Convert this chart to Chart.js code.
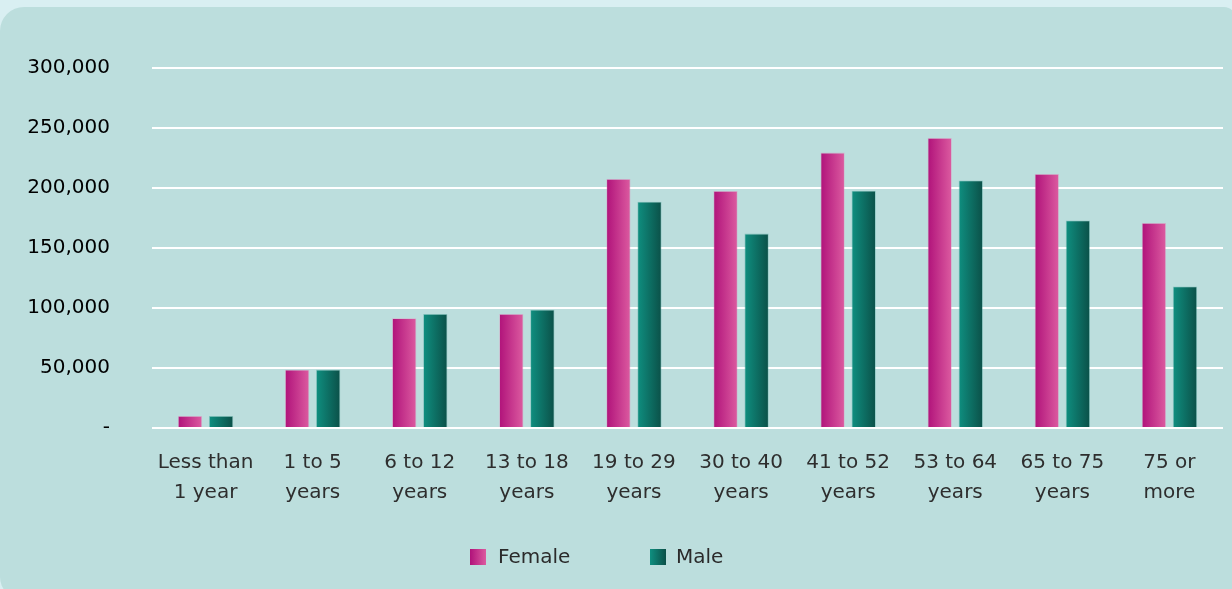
<!DOCTYPE html>
<html>
<head>
<meta charset="utf-8">
<script src="https://cdn.jsdelivr.net/npm/chart.js@4/dist/chart.umd.min.js"></script>
<style>
  html, body { margin: 0; padding: 0; width: 1232px; height: 589px; overflow: hidden; background: #d9eff2; }
  #panel { position: absolute; left: 0; top: 7px; width: 1236px; height: 592px; background: #bcdedd;
           border-radius: 24px 12px 0 22px; }
  #wrap { position: absolute; left: 0; top: 0; width: 1232px; height: 589px; }
  #legend { position: absolute; top: 545px; left: 0; width: 1232px; height: 24px;
            font-family: "DejaVu Sans", sans-serif; font-size: 20px; color: #2b2b2b; }
  .sw { position: absolute; top: 4px; width: 16px; height: 16px; }
  .lt { position: absolute; top: -1px; line-height: 24px; }
</style>
</head>
<body>
<div id="panel"></div>
<div id="wrap"><canvas id="c" width="1232" height="589"></canvas></div>
<div id="legend">
  <span class="sw" style="left:470px;background:linear-gradient(90deg,#b0127a,#dc5ba0);"></span>
  <span class="lt" style="left:498px;" id="lf"></span>
  <span class="sw" style="left:650px;background:linear-gradient(90deg,#0f8f80,#0b5048);"></span>
  <span class="lt" style="left:676px;" id="lm"></span>
</div>
<script>
const categories = [
  ['Less than', '1 year'], ['1 to 5', 'years'], ['6 to 12', 'years'], ['13 to 18', 'years'],
  ['19 to 29', 'years'], ['30 to 40', 'years'], ['41 to 52', 'years'], ['53 to 64', 'years'],
  ['65 to 75', 'years'], ['75 or', 'more']
];
const femaleValues = [10000, 48500, 91500, 95000, 207500, 197500, 229500, 241700, 211700, 170800];
const maleValues   = [10000, 48500, 95000, 98500, 188500, 162000, 197700, 206300, 173000, 118000];
const seriesNames = ['Female', 'Male'];
const yTicks = [0, 50000, 100000, 150000, 200000, 250000, 300000];

document.getElementById('lf').textContent = seriesNames[0];
document.getElementById('lm').textContent = seriesNames[1];

const CAT_PCT = 0.58, BAR_PCT = 0.78;
const gradStops = [['#b0127a', '#dc5ba0'], ['#0f8f80', '#0b5048']];

function barGradient(ctx) {
  const chart = ctx.chart;
  const stops = gradStops[ctx.datasetIndex];
  const xs = chart.scales && chart.scales.x;
  if (ctx.type !== 'data' || !xs || !chart.chartArea) return stops[0];
  const center = xs.getPixelForValue(ctx.dataIndex);
  const range = (xs.width / categories.length) * CAT_PCT;
  const size = range / 2;
  const bc = center - range / 2 + size * ctx.datasetIndex + size / 2;
  const w = size * BAR_PCT;
  const g = chart.ctx.createLinearGradient(bc - w / 2, 0, bc + w / 2, 0);
  g.addColorStop(0, stops[0]);
  g.addColorStop(1, stops[1]);
  return g;
}

new Chart(document.getElementById('c'), {
  type: 'bar',
  data: {
    labels: categories,
    datasets: [
      { label: seriesNames[0], data: femaleValues, backgroundColor: barGradient,
        borderColor: 'rgba(230,140,190,0.5)', borderWidth: 0.8,
        categoryPercentage: CAT_PCT, barPercentage: BAR_PCT },
      { label: seriesNames[1], data: maleValues, backgroundColor: barGradient,
        borderColor: 'rgba(80,170,160,0.5)', borderWidth: 0.8,
        categoryPercentage: CAT_PCT, barPercentage: BAR_PCT }
    ]
  },
  options: {
    responsive: false,
    animation: false,
    layout: { padding: { left: 0, right: 9, top: 68, bottom: 0 } },
    plugins: { legend: { display: false }, tooltip: { enabled: false } },
    scales: {
      x: {
        grid: { display: false, drawTicks: false },
        border: { display: false },
        ticks: {
          color: '#2e2e2e', padding: 20, maxRotation: 0, autoSkip: false,
          font: { family: 'DejaVu Sans', size: 20, lineHeight: 1.5 }
        },
        afterFit: (s) => { s.height = 161; }
      },
      y: {
        min: 0, max: 300000,
        afterBuildTicks: (s) => { s.ticks = yTicks.map(v => ({ value: v })); },
        grid: { color: '#ffffff', lineWidth: 2, drawTicks: false },
        border: { display: false },
        ticks: {
          color: '#000000', padding: 42,
          font: { family: 'DejaVu Sans', size: 20 },
          callback: (v) => v === 0 ? '-' : Number(v).toLocaleString('en-US')
        },
        afterFit: (s) => { s.width = 152; }
      }
    }
  }
});
</script>
</body>
</html>
